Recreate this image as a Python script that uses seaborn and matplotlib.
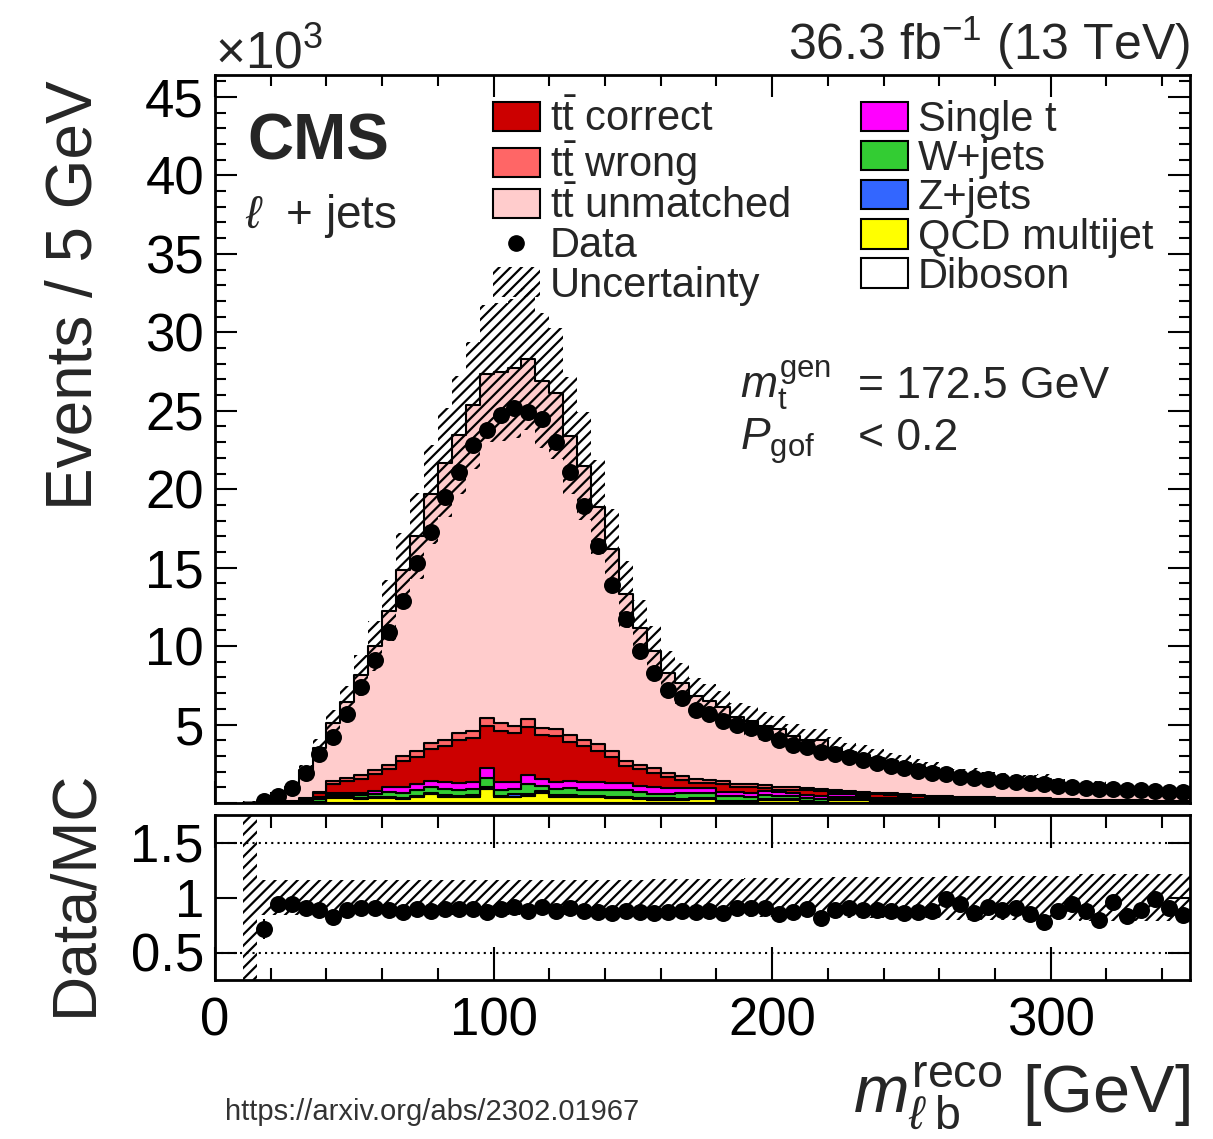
import numpy as np
import pandas as pd
import matplotlib
matplotlib.use("Agg")
import matplotlib.pyplot as plt
import seaborn as sns
from matplotlib.patches import Patch
from matplotlib.lines import Line2D
from matplotlib.ticker import MultipleLocator, FixedLocator, FuncFormatter

# ---------------- data (values in units of 10^3 events / 5 GeV) ----------------
bin_edges = np.arange(10, 351, 5)            # 10 ... 350 GeV, 68 bins
nan = np.nan

data_k = [nan, 0.10, 0.45, 0.95, 1.9, 3.1, 4.2, 5.7, 7.4, 9.1, 10.9, 12.9, 15.3, 17.3, 19.5, 21.1,
          22.8, 23.8, 24.7, 25.2, 24.9, 24.5, 23.0, 21.1, 18.9, 16.4, 13.9, 11.7, 9.7, 8.3, 7.2,
          6.7, 5.9, 5.7, 5.25, 4.97, 4.76, 4.48, 4.0, 3.7, 3.59, 3.27, 3.12, 2.93, 2.74, 2.55,
          2.36, 2.21, 2.06, 1.93, 1.85, 1.68, 1.60, 1.53, 1.42, 1.36, 1.27, 1.21, 1.10, 1.04,
          0.97, 0.92, 0.88, 0.84, 0.80, 0.77, 0.73, 0.70]

tt_unmatched = [0.02, 0.11, 0.41, 0.86, 1.76, 2.78, 3.74, 4.81, 6.33, 7.88,
                9.81, 11.86, 13.71, 15.84, 17.64, 18.98, 20.77, 21.95, 22.34, 22.81,
                22.95, 22.12, 21.39, 19.05, 17.47, 15.13, 12.87, 10.65, 8.71, 7.42,
                6.37, 5.91, 5.29, 5.02, 4.70, 4.26, 4.03, 3.77, 3.71, 3.25,
                3.04, 3.09, 2.66, 2.47, 2.38, 2.22, 2.08, 2.02, 1.87, 1.74,
                1.42, 1.37, 1.48, 1.31, 1.27, 1.19, 1.20, 1.25, 0.99, 0.87,
                0.89, 0.95, 0.73, 0.83, 0.74, 0.63, 0.67, 0.70]

tt_wrong = [0, 0.005, 0.01, 0.02, 0.04, 0.08, 0.2, 0.22, 0.25, 0.28,
            0.3, 0.3, 0.35, 0.4, 0.4, 0.45, 0.45, 0.5, 0.5, 0.45,
            0.5, 0.45, 0.45, 0.45, 0.4, 0.4, 0.35, 0.3, 0.3, 0.3,
            0.25, 0.25, 0.2, 0.2, 0.2, 0.2, 0.18, 0.18, 0.16, 0.16,
            0.15, 0.15, 0.14, 0.13, 0.12, 0.11, 0.1, 0.1, 0.09, 0.08,
            0.08, 0.07, 0.07, 0.06, 0.06, 0.06, 0.05, 0.05, 0.05, 0.04,
            0.04, 0.04, 0.04, 0.03, 0.03, 0.03, 0.03, 0.03]

tt_correct = [0, 0.005, 0.01, 0.03, 0.10, 0.27, 0.55, 0.74, 0.9, 1.06,
              1.14, 1.69, 1.74, 2.02, 2.33, 2.76, 2.76, 2.69, 3.3, 3.08,
              3.08, 2.78, 2.91, 2.5, 2.33, 2.02, 1.69, 1.11, 1.05, 0.95,
              0.73, 0.48, 0.37, 0.34, 0.49, 0.28, 0.42, 0.22, 0.17, 0.19,
              0.31, 0.33, 0.16, 0.08, 0.06, 0.21, 0.2, 0.17, 0.16, 0.12,
              0.14, 0.13, 0.11, 0.10, 0.09, 0.07, 0.06, 0.03, 0.05, 0.04,
              0.04, 0.05, 0.03, 0.04, 0.02, 0.02, 0.01, 0.01]

single_t = [0, 0.01, 0.02, 0.04, 0.08, 0.12, 0.12, 0.12, 0.15, 0.2,
            0.3, 0.35, 0.4, 0.4, 0.4, 0.45, 0.45, 0.65, 0.5, 0.45,
            0.55, 0.45, 0.45, 0.45, 0.45, 0.45, 0.45, 0.45, 0.4, 0.4,
            0.35, 0.35, 0.3, 0.3, 0.3, 0.28, 0.25, 0.25, 0.22, 0.2,
            0.2, 0.18, 0.16, 0.15, 0.14, 0.13, 0.12, 0.11, 0.1, 0.1,
            0.09, 0.08, 0.08, 0.07, 0.07, 0.06, 0.06, 0.06, 0.05, 0.05,
            0.05, 0.04, 0.04, 0.04, 0.04, 0.03, 0.03, 0.03]

w_jets = [0, 0.01, 0.02, 0.04, 0.08, 0.15, 0.15, 0.15, 0.18, 0.2,
          0.3, 0.3, 0.35, 0.35, 0.4, 0.35, 0.4, 0.55, 0.35, 0.35,
          0.65, 0.35, 0.4, 0.45, 0.4, 0.4, 0.4, 0.4, 0.35, 0.3,
          0.3, 0.35, 0.3, 0.3, 0.3, 0.3, 0.25, 0.25, 0.2, 0.2,
          0.2, 0.18, 0.15, 0.15, 0.15, 0.12, 0.12, 0.12, 0.1, 0.1,
          0.1, 0.08, 0.08, 0.08, 0.07, 0.07, 0.07, 0.06, 0.06, 0.05,
          0.05, 0.05, 0.05, 0.04, 0.04, 0.04, 0.04, 0.03]

z_jets = [0, 0, 0.01, 0.02, 0.03, 0.05, 0.06, 0.06, 0.07, 0.08,
          0.1, 0.08, 0.1, 0.1, 0.1, 0.1, 0.1, 0.12, 0.1, 0.15,
          0.12, 0.1, 0.1, 0.1, 0.1, 0.1, 0.1, 0.09, 0.09, 0.08,
          0.08, 0.07, 0.07, 0.07, 0.06, 0.06, 0.05, 0.05, 0.05, 0.05,
          0.04, 0.04, 0.04, 0.04, 0.03, 0.03, 0.03, 0.03, 0.03, 0.03,
          0.02, 0.02, 0.02, 0.02, 0.02, 0.02, 0.02, 0.02, 0.02, 0.02,
          0.01, 0.01, 0.01, 0.01, 0.01, 0.01, 0.01, 0.01]

qcd = [0, 0, 0, 0, 0.02, 0.03, 0.3, 0.3, 0.25, 0.3,
       0.3, 0.25, 0.35, 0.55, 0.4, 0.35, 0.4, 0.9, 0.35, 0.4,
       0.45, 0.65, 0.4, 0.4, 0.35, 0.35, 0.3, 0.3, 0.25, 0.2,
       0.2, 0.2, 0.25, 0.25, 0.05, 0.08, 0.05, 0.2, 0.2, 0.2,
       0.05, 0.02, 0.2, 0.2, 0.2, 0.05, 0.03, 0.02, 0.02, 0.02,
       0.02, 0.02, 0.02, 0.02, 0.02, 0.02, 0.02, 0.08, 0.02, 0.02,
       0.01, 0.01, 0.01, 0.01, 0.01, 0.01, 0.01, 0.01]

diboson = [0, 0, 0, 0, 0, 0.01, 0.01, 0.01, 0.01, 0.01,
           0.01, 0.01, 0.01, 0.01, 0.01, 0.01, 0.01, 0.01, 0.01, 0.01,
           0.01, 0.01, 0.01, 0.01, 0.01, 0.01, 0.01, 0.01, 0.01, 0.01,
           0.01, 0.01, 0.01, 0.01, 0.01, 0.01, 0.01, 0.01, 0.01, 0.01,
           0.01, 0.01, 0.01, 0.01, 0.01, 0.01, 0.01, 0.01, 0.01, 0.01,
           0.01, 0.01, 0.01, 0.01, 0.01, 0.01, 0.01, 0.01, 0.01, 0.01,
           0.01, 0.01, 0.01, 0.01, 0.01, 0.01, 0.01, 0.01]

# relative total uncertainty of the prediction
unc_rel = [5.0, 0.16, 0.16, 0.16, 0.16, 0.16, 0.16, 0.16, 0.16, 0.16,
           0.16, 0.16, 0.16, 0.16, 0.16, 0.16, 0.16, 0.16, 0.16, 0.16,
           0.16, 0.16, 0.16, 0.16, 0.16, 0.16, 0.16, 0.16, 0.16, 0.17,
           0.17, 0.17, 0.17, 0.17, 0.17, 0.17, 0.18, 0.18, 0.18, 0.18,
           0.18, 0.18, 0.19, 0.19, 0.19, 0.19, 0.19, 0.19, 0.19, 0.19,
           0.2, 0.2, 0.2, 0.2, 0.2, 0.2, 0.2, 0.2, 0.2, 0.2,
           0.21, 0.21, 0.21, 0.21, 0.21, 0.21, 0.21, 0.21]

ratio_err = [nan, 0.09, 0.03, 0.02, 0.02, 0.02, 0.02, 0.02, 0.02, 0.02,
             0.02, 0.02, 0.02, 0.02, 0.02, 0.02, 0.02, 0.02, 0.02, 0.02,
             0.02, 0.02, 0.02, 0.02, 0.02, 0.02, 0.02, 0.02, 0.02, 0.02,
             0.02, 0.02, 0.02, 0.02, 0.02, 0.02, 0.02, 0.02, 0.02, 0.02,
             0.02, 0.02, 0.02, 0.02, 0.02, 0.02, 0.02, 0.02, 0.02, 0.02,
             0.02, 0.02, 0.02, 0.02, 0.02, 0.02, 0.02, 0.02, 0.02, 0.03,
             0.03, 0.03, 0.03, 0.03, 0.03, 0.03, 0.03, 0.03]

proc_names = ["tt unmatched", "tt wrong", "tt correct", "Single t",
              "W+jets", "Z+jets", "QCD multijet", "Diboson"]
proc_values = [tt_unmatched, tt_wrong, tt_correct, single_t, w_jets, z_jets, qcd, diboson]
proc_colors = ["#ffcccc", "#ff6666", "#cc0000", "#ff00ff",
               "#33cc33", "#3366ff", "#ffff00", "#ffffff"]

# ---------------- style ----------------
sns.set_theme(style="ticks")
plt.rcParams["font.family"] = ["Liberation Sans", "DejaVu Sans"]
plt.rcParams["mathtext.fontset"] = "custom"
plt.rcParams["mathtext.rm"] = "Liberation Sans"
plt.rcParams["mathtext.it"] = "Liberation Sans:italic"
plt.rcParams["mathtext.bf"] = "Liberation Sans:bold"
plt.rcParams["hatch.linewidth"] = 1.6
plt.rcParams["axes.linewidth"] = 2.0
HATCH = "///"

W, H = 1213, 1139
fig = plt.figure(figsize=(W / 100, H / 100), dpi=100)
ax = fig.add_axes([215 / W, 1 - 803 / H, 975 / W, 728 / H])
rax = fig.add_axes([215 / W, 1 - 980 / H, 975 / W, 165 / H])

centers = bin_edges[:-1] + 2.5
n = len(centers)
for v in proc_values + [data_k, unc_rel, ratio_err]:
    assert len(v) == n, len(v)

stack_df = pd.DataFrame({
    "m": np.tile(centers, len(proc_names)).astype(float),
    "w": np.concatenate([np.asarray(v, float) for v in proc_values]),
    "proc": np.repeat(proc_names, n),
})
palette = dict(zip(proc_names, proc_colors))

sns.histplot(data=stack_df, x="m", weights="w", hue="proc", hue_order=proc_names,
             palette=palette, bins=[float(b) for b in bin_edges], multiple="stack",
             element="step", fill=True, alpha=1, edgecolor="black", linewidth=1.5,
             legend=False, ax=ax)

mc_total = np.sum([np.asarray(v, float) for v in proc_values], axis=0)
unc = np.asarray(unc_rel)
ax.stairs(mc_total * (1 + unc), bin_edges, baseline=mc_total * (1 - np.minimum(unc, 1)),
          fill=True, facecolor="none", edgecolor="black", linewidth=0, hatch=HATCH, zorder=5)

data_arr = np.asarray(data_k, float)
sns.scatterplot(x=centers, y=data_arr, color="black", s=150, edgecolor="black",
                linewidth=0, ax=ax, zorder=10, legend=False)

# ratio panel
ratio = data_arr / mc_total
rax.stairs(1 + unc, bin_edges, baseline=1 - unc, fill=True, facecolor="none",
           edgecolor="black", linewidth=0, hatch=HATCH, zorder=2)
rax.errorbar(centers, ratio, yerr=np.asarray(ratio_err), fmt="none", ecolor="black",
             elinewidth=1.5, zorder=9)
sns.scatterplot(x=centers, y=ratio, color="black", s=150, edgecolor="black",
                linewidth=0, ax=rax, zorder=10, legend=False)
for yv in (0.5, 1.5):
    rax.axhline(yv, color="black", linestyle=(0, (1, 2)), linewidth=1.5, zorder=1)

# axes ranges & ticks
for a in (ax, rax):
    a.set_xlim(0, 350)
    a.xaxis.set_major_locator(MultipleLocator(100))
    a.xaxis.set_minor_locator(MultipleLocator(20))
    a.tick_params(which="both", direction="in", top=True, right=True, width=1.5,
                  labelsize=38, pad=8, colors="black")
    a.set_xlabel("")
    a.set_ylabel("")
    for s in a.spines.values():
        s.set_linewidth(2.0)
        s.set_color("black")

ax.set_ylim(0, 46.4)
ax.yaxis.set_major_locator(MultipleLocator(5))
ax.yaxis.set_minor_locator(MultipleLocator(1))
ax.yaxis.set_major_formatter(FuncFormatter(lambda v, p: "" if v <= 0 else f"{v:g}"))
ax.tick_params(axis="x", labelbottom=False)
ax.tick_params(which="major", length=16)
ax.tick_params(which="minor", length=8)

rax.set_ylim(0.25, 1.75)
rax.yaxis.set_major_locator(FixedLocator([0.5, 1.0, 1.5]))
rax.yaxis.set_major_formatter(FuncFormatter(lambda v, p: f"{v:g}"))
rax.yaxis.set_minor_locator(FixedLocator([]))
rax.tick_params(axis="x", which="major", length=24)
rax.tick_params(axis="x", which="minor", length=9)
rax.tick_params(axis="y", which="major", length=16)
rax.tick_params(axis="x", pad=12)

# texts
fig.text(215 / W, 1 - 68 / H, r"$\times$10$^{3}$", fontsize=37, ha="left", va="baseline")
fig.text(1190 / W, 1 - 60 / H, r"36.3 fb$^{-1}$ (13 TeV)", fontsize=36, ha="right", va="baseline")
fig.text(247 / W, 1 - 160 / H, "CMS", fontsize=46, fontweight="bold", ha="left", va="baseline")
fig.text(245 / W, 1 - 228 / H, r"$\ell$  + jets", fontsize=33, ha="left", va="baseline")
fig.text(740 / W, 1 - 398 / H, r"$m_{\mathrm{t}}^{\mathrm{gen}}$", fontsize=32, ha="left", va="baseline")
fig.text(858 / W, 1 - 398 / H, "= 172.5 GeV", fontsize=32, ha="left", va="baseline")
fig.text(740 / W, 1 - 450 / H, r"$P_{\mathrm{gof}}$", fontsize=32, ha="left", va="baseline")
fig.text(858 / W, 1 - 450 / H, "< 0.2", fontsize=32, ha="left", va="baseline")

fig.text(75 / W, 1 - 80 / H, "Events / 5 GeV", fontsize=46, rotation=90, ha="center", va="top")
fig.text(75 / W, 1 - 893 / H, "Data/MC", fontsize=45, rotation=90, ha="center", va="center")
fig.text(1190 / W, 1 - 1112 / H, r"$m_{\ell\;\mathrm{b}}^{\mathrm{reco}}$ [GeV]", fontsize=48,
         ha="right", va="baseline")
fig.text(225 / W, 1 - 1112 / H, "https://arxiv.org/abs/2302.01967", fontsize=21,
         color="#333333", ha="left", va="center")

# legend
def box(c):
    return Patch(facecolor=c, edgecolor="black", linewidth=1.5)

handles = [box(palette["tt correct"]), box(palette["tt wrong"]), box(palette["tt unmatched"]),
           Line2D([0], [0], marker="o", color="black", linestyle="none", markersize=11),
           Patch(facecolor="none", edgecolor="black", linewidth=0, hatch=HATCH),
           box(palette["Single t"]), box(palette["W+jets"]), box(palette["Z+jets"]),
           box(palette["QCD multijet"]), box(palette["Diboson"])]
labels = [r"$\mathrm{t\bar{t}}$ correct", r"$\mathrm{t\bar{t}}$ wrong",
          r"$\mathrm{t\bar{t}}$ unmatched", "Data", "Uncertainty",
          "Single t", "W+jets", "Z+jets", "QCD multijet", "Diboson"]
fig.legend(handles, labels, ncol=2, loc="upper left", bbox_to_anchor=(493 / W, 1 - 100 / H),
           fontsize=30, frameon=False, handlelength=1.12, handleheight=0.7,
           handletextpad=0.25, labelspacing=-0.02, columnspacing=1.7, borderpad=0,
           borderaxespad=0)

fig.savefig("out.png", dpi=100)
